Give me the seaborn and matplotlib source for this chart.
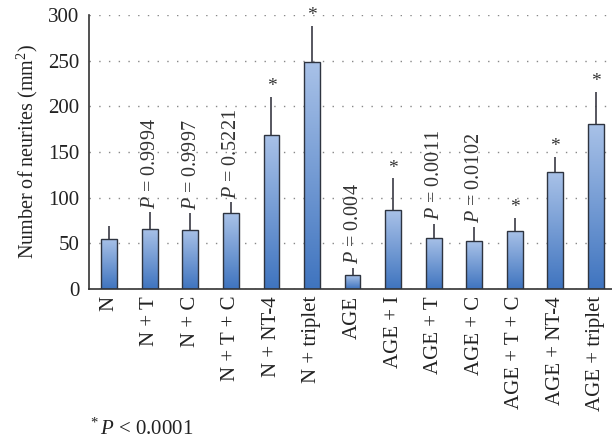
import numpy as np
import pandas as pd
import matplotlib
matplotlib.use("Agg")
import matplotlib.pyplot as plt
from matplotlib.colors import LinearSegmentedColormap
import seaborn as sns

# === Data ===
groups = ["N", "N + T", "N + C", "N + T + C", "N + NT-4", "N + triplet",
          "AGE", "AGE + I", "AGE + T", "AGE + C", "AGE + T + C",
          "AGE + NT-4", "AGE + triplet"]
means = [55, 66, 65, 83, 169, 249, 15, 86, 56, 52, 64, 128, 181]
errors = [14, 18, 18, 12, 41, 39, 8, 35, 15, 16, 14, 17, 35]
p_labels = ["", "0.9994", "0.9997", "0.5221", "", "", "0.004", "", "0.0011",
            "0.0102", "", "", ""]
stars = [False, False, False, False, True, True, False, True, False, False,
         True, True, True]

df = pd.DataFrame({"group": groups, "mean": means})

sns.set_style("white")
plt.rcParams["font.family"] = ["Liberation Serif", "DejaVu Serif"]
plt.rcParams["mathtext.fontset"] = "custom"
plt.rcParams["mathtext.rm"] = "Liberation Serif"
plt.rcParams["mathtext.it"] = "Liberation Serif:italic"

fig = plt.figure(figsize=(6.12, 4.45), dpi=100)
ax = fig.add_axes([0.1454, 0.3506, 0.8546, 0.6157])

# === Bars ===
sns.barplot(data=df, x="group", y="mean", width=0.39, color="#7a9fd6",
            edgecolor="#2e3440", linewidth=1.0, ax=ax, zorder=2)

# gradient fill clipped to each bar
cmap = LinearSegmentedColormap.from_list("blu", ["#a9c2e8", "#3f74bf"])
grad = np.linspace(0, 1, 256).reshape(-1, 1)
for patch in ax.patches:
    x0, y0 = patch.get_x(), patch.get_y()
    w, h = patch.get_width(), patch.get_height()
    im = ax.imshow(grad, cmap=cmap, aspect="auto", origin="upper",
                   extent=[x0, x0 + w, y0, y0 + h], zorder=2)
    im.set_clip_path(patch)
    patch.set_facecolor("none")
    patch.set_zorder(3)

# upper-only error bars
xs = np.arange(len(groups))
ax.errorbar(xs, means, yerr=[np.zeros(len(errors)), errors], fmt="none",
            ecolor="#3a3a44", elinewidth=1.2, capsize=0, zorder=1.5)

# === Annotations ===
for i in range(len(groups)):
    top = means[i] + errors[i]
    if stars[i]:
        ax.text(i, top + 2, "*", ha="center", va="bottom", fontsize=14,
                color="#333333")
    if p_labels[i]:
        ax.text(i + 0.02, top + 4, f"$P$ = {p_labels[i]}", rotation=90,
                ha="center", va="bottom", fontsize=14.5, color="#333333")

# === Axes styling ===
ax.set_ylim(0, 300)
ax.set_xlim(-0.5, 12.4)
ax.set_yticks(range(0, 301, 50))
ax.yaxis.grid(True, linestyle=(0, (1, 6)), color="#888888", linewidth=1.0)
ax.set_axisbelow(True)
ax.set_xlabel("")
ax.set_ylabel("Number of neurites (mm$^2$)", fontsize=14.5, color="#222222",
              labelpad=6)
ax.set_xticks(xs)
ax.set_xticklabels(groups, rotation=90, fontsize=15, color="#222222")
ax.tick_params(axis="x", length=0, pad=5)
ax.set_xticks(np.arange(0.5, 12, 1), minor=True)
ax.tick_params(axis="x", which="minor", length=4, width=1, color="#333333",
               direction="out")
ax.tick_params(axis="y", length=4, width=1, color="#333333", direction="out",
               labelsize=15, labelcolor="#222222", pad=3)
for side in ["top", "right"]:
    ax.spines[side].set_visible(False)
for side in ["left", "bottom"]:
    ax.spines[side].set_color("#333333")
    ax.spines[side].set_linewidth(1.2)

# footnote
fig.text(88 / 612, 1 - 435 / 445, r"$^*$$P$ < 0.0001", fontsize=15,
         color="#222222", va="baseline")

fig.savefig("out.png", dpi=100)
plt.close(fig)
